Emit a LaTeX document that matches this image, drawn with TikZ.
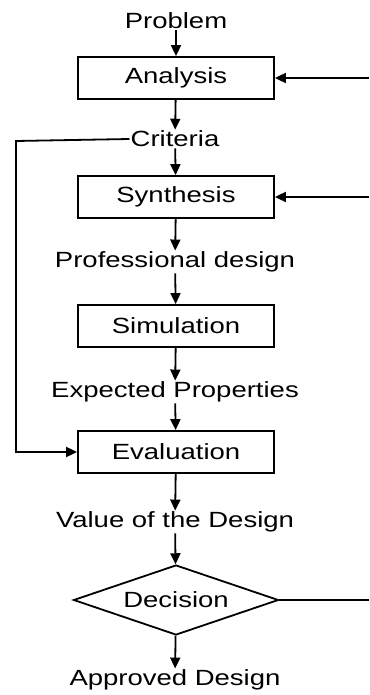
\documentclass[tikz,border=0pt]{standalone}
\usepackage{fontspec}
\setmainfont[FakeStretch=1.25]{Liberation Sans}
\usetikzlibrary{arrows.meta,shapes.geometric}
\begin{document}
\begin{tikzpicture}[x=1pt,y=-1pt,
  box/.style={draw,line width=1.8pt,minimum width=196pt,minimum height=42pt,inner sep=0pt,font=\fontsize{22}{22}\selectfont},
  lbl/.style={inner sep=1pt,font=\fontsize{22}{22}\selectfont},
  dec/.style={draw,line width=1.8pt,diamond,aspect=2.93,minimum width=205pt,minimum height=70pt,inner sep=0pt,font=\fontsize{22}{22}\selectfont},
  arr/.style={line width=1.8pt,-{Triangle[length=11pt,width=10pt]}},
  ln/.style={line width=1.8pt}]
\useasboundingbox (0,0) rectangle (369,695);
\node[lbl] (prob) at (176,21) {Problem};
\node[box] (ana) at (176,78) {Analysis};
\node[lbl] (crit) at (175,139) {Criteria};
\node[box] (syn) at (176,197) {Synthesis};
\node[lbl] (prof) at (175,262) {Professional design};
\node[box] (sim) at (176,326) {Simulation};
\node[lbl] (exp) at (175,392) {Expected Properties};
\node[box] (eva) at (176,452) {Evaluation};
\node[lbl] (val) at (175,522) {Value of the Design};
\node[dec] (dec) at (176,600) {Decision};
\node[lbl] (app) at (175,680) {Approved Design};
\coordinate (r1) at (369,78);
\coordinate (r2) at (369,197);
\coordinate (r3) at (369,600);
\coordinate (cl) at (16,141);
\coordinate (el) at (16,452);
\draw[arr] (prob) -- (ana);
\draw[arr] (ana) -- (crit);
\draw[arr] (crit) -- (syn);
\draw[arr] (syn) -- (prof);
\draw[arr] (prof) -- (sim);
\draw[arr] (sim) -- (exp);
\draw[arr] (exp) -- (eva);
\draw[arr] (eva) -- (val);
\draw[arr] (val) -- (dec);
\draw[arr] (dec) -- (app);
\draw[arr] (r1) -- (ana);
\draw[arr] (r2) -- (syn);
\draw[ln] (dec.east) -- (r3);
\draw[arr] (crit.west) -- (cl) -- (el) -- (eva.west);
\end{tikzpicture}
\end{document}
